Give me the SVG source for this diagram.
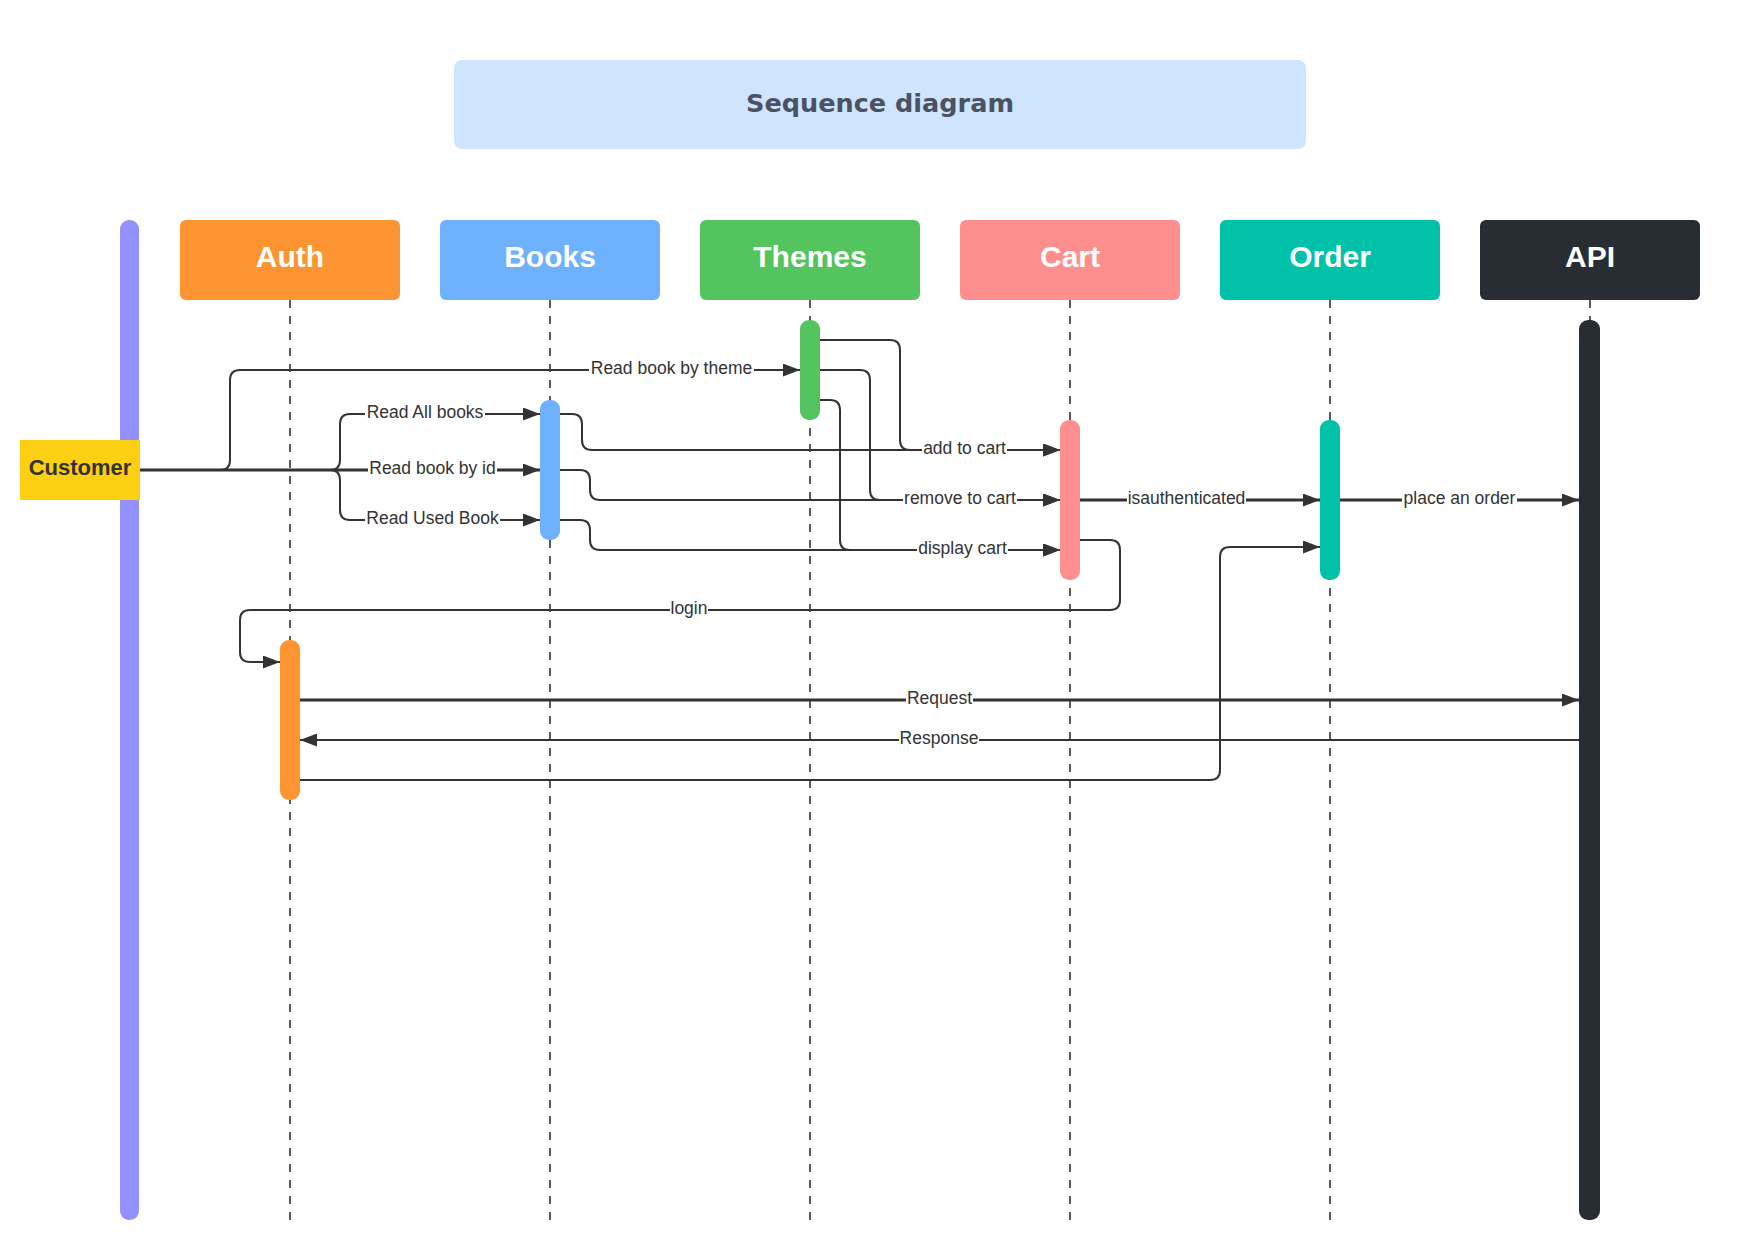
<svg xmlns="http://www.w3.org/2000/svg" width="1760" height="1250" viewBox="0 0 1760 1250">
<style>
.hdr{font-family:"Liberation Sans",Arial,sans-serif;font-weight:bold;font-size:30px;fill:#ffffff;text-anchor:middle}
.life{stroke:#333333;stroke-width:1.6;stroke-dasharray:8 8;fill:none}
.ln{fill:none;stroke:#333333;stroke-width:2}
.thick{stroke-width:3}
.lbl{font-family:"Liberation Sans",Arial,sans-serif;font-size:17.5px;fill:#333333;text-anchor:middle}
.bg{fill:#ffffff}
</style>
<defs>
<marker id="arr" markerUnits="userSpaceOnUse" markerWidth="18" markerHeight="13" refX="17" refY="6.5" orient="auto">
<path d="M0,0 L17,6.5 L0,13 z" fill="#333333"/>
</marker>
</defs>
<rect width="1760" height="1250" fill="#ffffff"/>

<g id="title">
<rect x="454" y="60" width="852" height="89" rx="8" fill="#cfe4ff"/>
<text x="880" y="112" font-family="DejaVu Sans,sans-serif" font-weight="bold" font-size="24" fill="#4b5261" text-anchor="middle" textLength="268" lengthAdjust="spacingAndGlyphs">Sequence diagram</text>
</g>

<g id="customer">
<rect x="120" y="220" width="19" height="1000" rx="9" fill="#9391ff"/>
<rect x="20" y="440" width="120" height="60" fill="#fccf12"/>
<text x="80" y="475" font-family="Liberation Sans,Arial,sans-serif" font-weight="bold" font-size="22" fill="#333333" text-anchor="middle">Customer</text>
</g>

<g id="auth">
<line class="life" x1="290" y1="300" x2="290" y2="1220"/>
<rect x="180" y="220" width="220" height="80" rx="6" fill="#fc9432"/>
<text class="hdr" x="290" y="267">Auth</text>
<rect x="280" y="640" width="20" height="160" rx="9" fill="#fc9432"/>
</g>

<g id="books">
<line class="life" x1="550" y1="300" x2="550" y2="1220"/>
<rect x="440" y="220" width="220" height="80" rx="6" fill="#6db1ff"/>
<text class="hdr" x="550" y="267">Books</text>
<rect x="540" y="400" width="20" height="140" rx="9" fill="#6db1ff"/>
</g>

<g id="themes">
<line class="life" x1="810" y1="300" x2="810" y2="1220"/>
<rect x="700" y="220" width="220" height="80" rx="6" fill="#54c45e"/>
<text class="hdr" x="810" y="267">Themes</text>
<rect x="800" y="320" width="20" height="100" rx="9" fill="#54c45e"/>
</g>

<g id="cart">
<line class="life" x1="1070" y1="300" x2="1070" y2="1220"/>
<rect x="960" y="220" width="220" height="80" rx="6" fill="#ff8f8f"/>
<text class="hdr" x="1070" y="267">Cart</text>
<rect x="1060" y="420" width="20" height="160" rx="9" fill="#ff8f8f"/>
</g>

<g id="order">
<line class="life" x1="1330" y1="300" x2="1330" y2="1220"/>
<rect x="1220" y="220" width="220" height="80" rx="6" fill="#00c2a8"/>
<text class="hdr" x="1330" y="267">Order</text>
<rect x="1320" y="420" width="20" height="160" rx="9" fill="#00c2a8"/>
</g>

<g id="api">
<line class="life" x1="1590" y1="300" x2="1590" y2="330"/>
<rect x="1480" y="220" width="220" height="80" rx="6" fill="#282c33"/>
<text class="hdr" x="1590" y="267">API</text>
<rect x="1579" y="320" width="21" height="900" rx="9" fill="#282c33"/>
</g>

<g id="connectors">
<path class="ln" d="M140,470 H220 Q230,470 230,460 V380 Q230,370 240,370 H800" marker-end="url(#arr)"/>
<path class="ln" d="M140,470 H330 Q340,470 340,460 V424 Q340,414 350,414 H540" marker-end="url(#arr)"/>
<path class="ln" d="M140,470 H330 Q340,470 340,480 V510 Q340,520 350,520 H540" marker-end="url(#arr)"/>
<path class="ln thick" d="M140,470 H540" marker-end="url(#arr)"/>

<path class="ln" d="M560,414 H572 Q582,414 582,424 V440 Q582,450 592,450 H1060" marker-end="url(#arr)"/>
<path class="ln" d="M560,470 H580 Q590,470 590,480 V490 Q590,500 600,500 H1060" marker-end="url(#arr)"/>
<path class="ln" d="M560,520 H580 Q590,520 590,530 V540 Q590,550 600,550 H1060" marker-end="url(#arr)"/>

<path class="ln" d="M820,340 H890 Q900,340 900,350 V440 Q900,450 910,450 H1060" marker-end="url(#arr)"/>
<path class="ln" d="M820,370 H860 Q870,370 870,380 V490 Q870,500 880,500 H1060" marker-end="url(#arr)"/>
<path class="ln" d="M820,400 H830 Q840,400 840,410 V540 Q840,550 850,550 H1060" marker-end="url(#arr)"/>

<path class="ln thick" d="M1080,500 H1320" marker-end="url(#arr)"/>
<path class="ln thick" d="M1340,500 H1579" marker-end="url(#arr)"/>

<path class="ln" d="M1080,540 H1110 Q1120,540 1120,550 V600 Q1120,610 1110,610 H250 Q240,610 240,620 V652 Q240,662 250,662 H280" marker-end="url(#arr)"/>

<path class="ln thick" d="M300,700 H1579" marker-end="url(#arr)"/>
<path class="ln" d="M1579,740 H300" marker-end="url(#arr)"/>
<path class="ln" d="M300,780 H1210 Q1220,780 1220,770 V557 Q1220,547 1230,547 H1320" marker-end="url(#arr)"/>

<rect class="bg" x="589" y="361" width="165" height="18"/>
<text class="lbl" x="671.5" y="374">Read book by theme</text>
<rect class="bg" x="365" y="405" width="120" height="18"/>
<text class="lbl" x="425" y="418">Read All books</text>
<rect class="bg" x="368" y="461" width="129" height="18"/>
<text class="lbl" x="432.5" y="474">Read book by id</text>
<rect class="bg" x="365" y="511" width="135" height="18"/>
<text class="lbl" x="432.5" y="524">Read Used Book</text>
<rect class="bg" x="922" y="441" width="85" height="18"/>
<text class="lbl" x="964.5" y="454">add to cart</text>
<rect class="bg" x="903" y="491" width="114" height="18"/>
<text class="lbl" x="960" y="504">remove to cart</text>
<rect class="bg" x="917" y="541" width="91" height="18"/>
<text class="lbl" x="962.5" y="554">display cart</text>
<rect class="bg" x="1127" y="491" width="119" height="18"/>
<text class="lbl" x="1186.5" y="504">isauthenticated</text>
<rect class="bg" x="1402" y="491" width="115" height="18"/>
<text class="lbl" x="1459.5" y="504">place an order</text>
<rect class="bg" x="670" y="601" width="38" height="18"/>
<text class="lbl" x="689" y="614">login</text>
<rect class="bg" x="906" y="691" width="67" height="18"/>
<text class="lbl" x="939.5" y="704">Request</text>
<rect class="bg" x="899" y="731" width="80" height="18"/>
<text class="lbl" x="939" y="744">Response</text>
</g>
</svg>
